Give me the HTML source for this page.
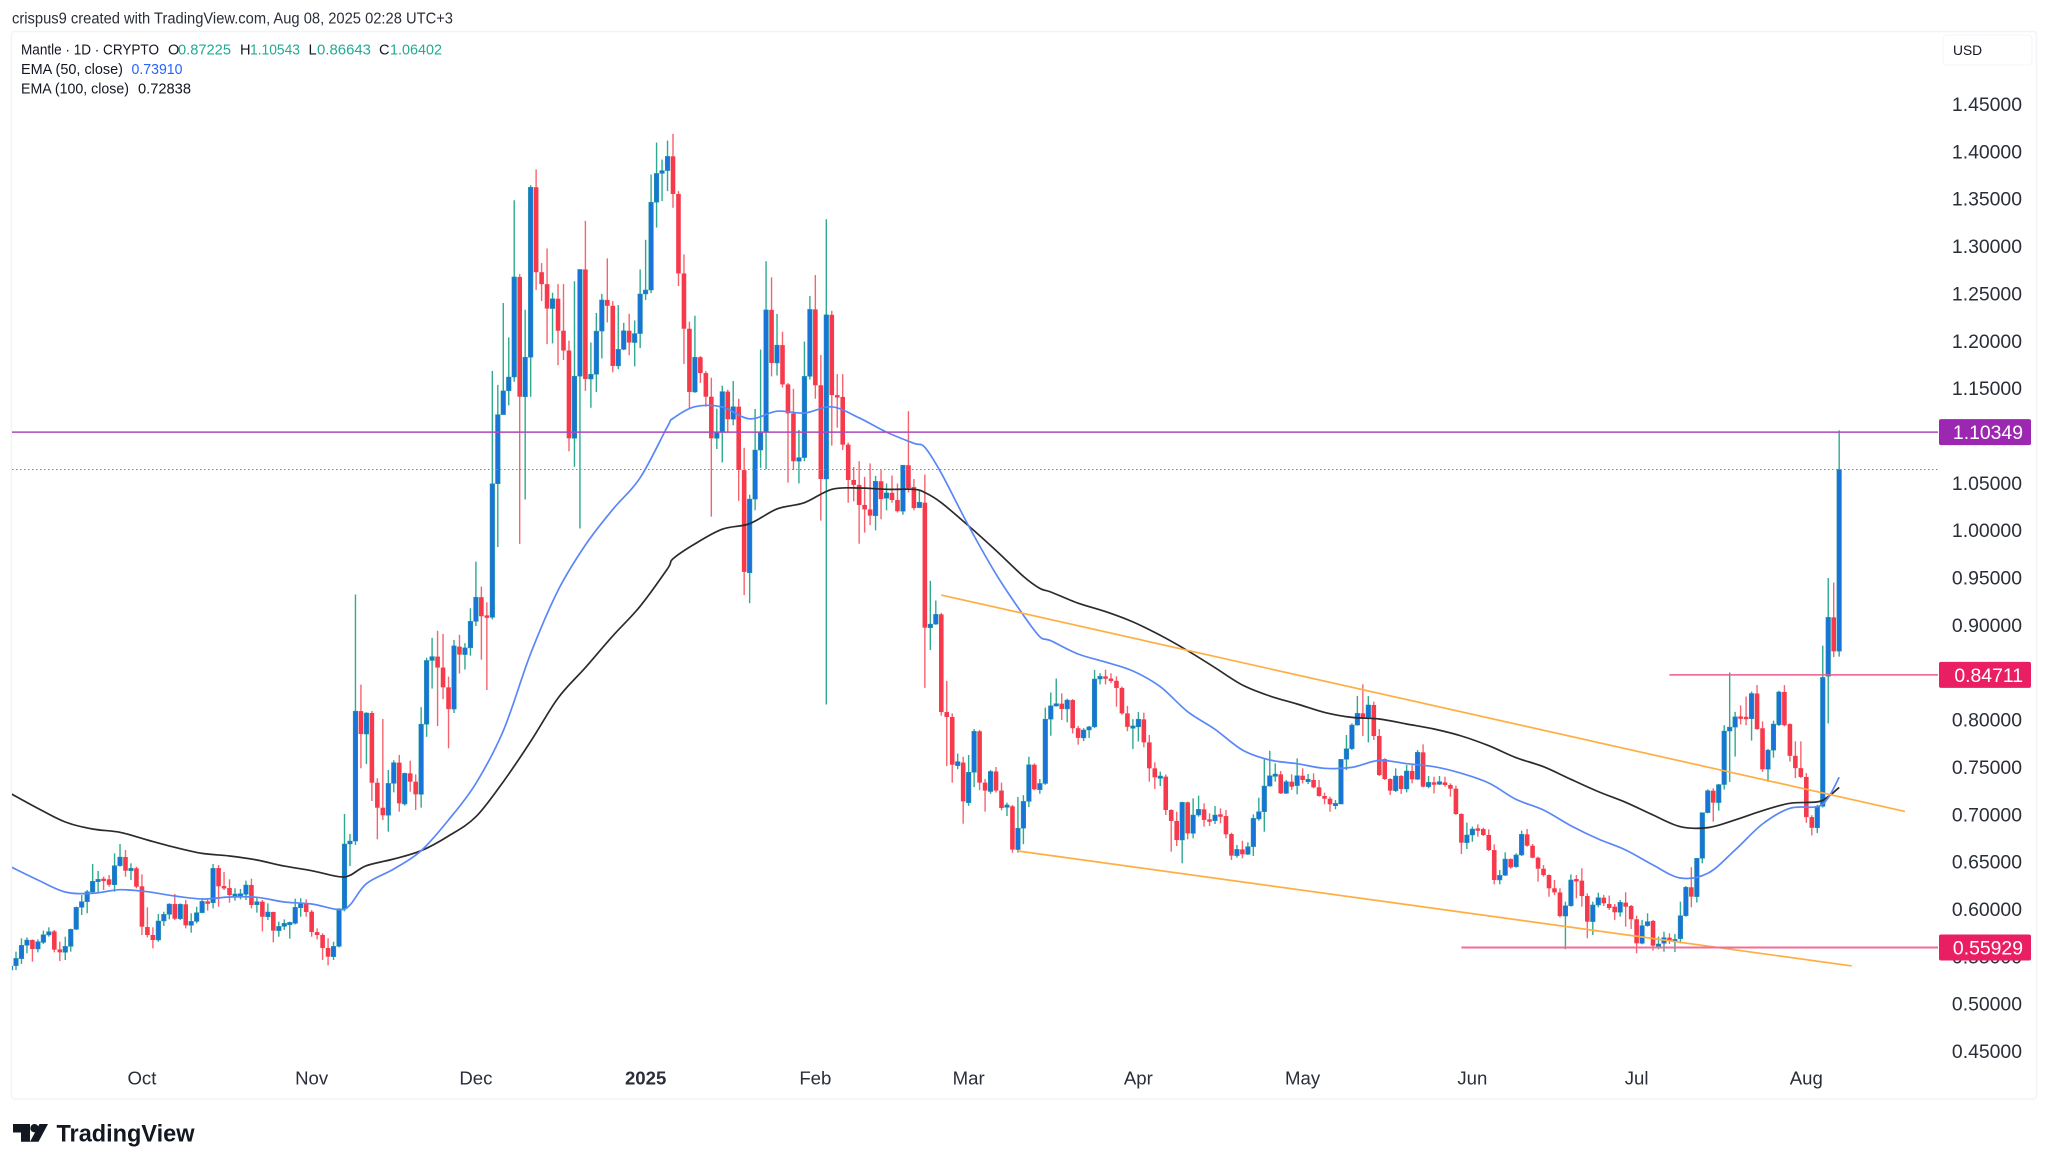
<!DOCTYPE html>
<html lang="en">
<head>
<meta charset="utf-8">
<title>Mantle 1D chart</title>
<style>
html,body{margin:0;padding:0;background:#fff;}
body{width:2048px;height:1168px;overflow:hidden;}
svg{display:block;font-family:"Liberation Sans",Arial,sans-serif;}
</style>
</head>
<body>
<svg id="chart" xmlns="http://www.w3.org/2000/svg" width="2048" height="1168" viewBox="0 0 2048 1168">
  <defs><clipPath id="plot-clip"><rect x="12" y="32" width="1926" height="1067"/></clipPath></defs>
  <rect x="0" y="0" width="2048" height="1168" fill="#ffffff"/>
  <rect x="11.5" y="31.5" width="2025" height="1067.5" rx="3" fill="#ffffff" stroke="#f1f3f8" stroke-width="1.5"/>
  <text x="12" y="23.5" font-size="15.5" fill="#2a2e39" textLength="441" lengthAdjust="spacingAndGlyphs">crispus9 created with TradingView.com, Aug 08, 2025 02:28 UTC+3</text>

  <g font-size="14.6" fill="#131722">
    <text x="21" y="54.5" textLength="138" lengthAdjust="spacingAndGlyphs">Mantle · 1D · CRYPTO</text>
    <text x="168" y="54.5">O</text>
    <text x="178" y="54.5" fill="#22ab94" textLength="53" lengthAdjust="spacingAndGlyphs">0.87225</text>
    <text x="240" y="54.5">H</text>
    <text x="250" y="54.5" fill="#22ab94" textLength="50" lengthAdjust="spacingAndGlyphs">1.10543</text>
    <text x="308.5" y="54.5">L</text>
    <text x="317" y="54.5" fill="#22ab94" textLength="54" lengthAdjust="spacingAndGlyphs">0.86643</text>
    <text x="379" y="54.5">C</text>
    <text x="390" y="54.5" fill="#22ab94" textLength="52" lengthAdjust="spacingAndGlyphs">1.06402</text>
    <text x="21" y="74" textLength="102" lengthAdjust="spacingAndGlyphs">EMA (50, close)</text>
    <text x="131.5" y="74" fill="#2962ff" textLength="51" lengthAdjust="spacingAndGlyphs">0.73910</text>
    <text x="21" y="93.5" textLength="108" lengthAdjust="spacingAndGlyphs">EMA (100, close)</text>
    <text x="138" y="93.5" textLength="53" lengthAdjust="spacingAndGlyphs">0.72838</text>
  </g>

  <g id="candles" clip-path="url(#plot-clip)"></g>
  <g id="emas" clip-path="url(#plot-clip)"></g>
  <g id="drawings"></g>
  <g id="yaxis"></g>
  <g id="xaxis"></g>
  <g id="tags"></g>

  <g>
    <rect x="1943" y="35" width="89" height="30" rx="4" fill="#ffffff" stroke="#f3f4f8" stroke-width="1"/>
    <text x="1953" y="55" font-size="13.8" fill="#131722">USD</text>
  </g>

  <g fill="#131722">
    <path d="M13 1124H30V1141.7H21V1132.5H13Z"/>
    <circle cx="34.5" cy="1128.2" r="4.2"/>
    <path d="M39.5 1124H48L38.5 1141.7H30Z"/>
    <text x="56.5" y="1141.5" font-size="24.5" font-weight="700" textLength="138" lengthAdjust="spacingAndGlyphs">TradingView</text>
  </g>
</svg>

<script>
// Daily OHLC values, one entry per candle (index 0 is the clipped first bar)
const opens = [
.5355,.5401,.5475,.5616,.5672,.5577,.5647,.5725,.5763,.5573,
.5542,.5605,.5785,.6017,.6077,.6179,.6292,.6320,.6313,.6256,
.6457,.6548,.6404,.6429,.6239,.5809,.5725,.5672,.5873,.5943,
.6052,.5897,.6049,.5827,.5869,.5961,.6080,.6066,.6432,.6242,
.6221,.6151,.6154,.6154,.6253,.6045,.6077,.5918,.5968,.5771,
.5816,.5851,.5848,.6013,.6059,.5971,.5756,.5725,.5588,.5496,
.5605,.6003,.6686,.6717,.8089,.7847,.8069,.7333,.7069,.6989,
.7326,.7545,.7108,.7432,.7344,.7210,.7951,.8624,.8665,.8549,
.8340,.8110,.8770,.8686,.8757,.9037,.9292,.9100,.9079,1.049,
1.122,1.1471,1.1617,1.2674,1.1409,1.1826,1.3621,1.2724,1.2598,1.234,
1.2444,1.2106,1.1897,1.097,1.1626,1.2753,1.1596,1.1646,1.2102,1.2431,
1.2369,1.1734,1.1909,1.2106,1.1981,1.2076,1.2494,1.2536,1.3463,1.3767,
1.3797,1.3947,1.355,1.2711,1.2127,1.1459,1.1826,1.1659,1.1409,1.097,
1.1033,1.1463,1.1171,1.1304,1.0634,.955,1.0328,1.0846,1.1035,1.2326,
1.1765,1.1954,1.1539,1.1233,1.0728,1.0766,1.1624,1.2331,1.153,1.054,
1.2274,1.1426,1.1407,1.0903,1.053,1.0478,1.0266,1.0219,1.0153,1.0516,
1.0337,1.0394,1.0318,1.02,1.0686,1.0455,1.0238,1.029,.897,.9008,
.9111,.8079,.8027,.7513,.7546,.7122,.7443,.7876,.7334,.724,
.7452,.725,.7094,.7084,.6627,.6853,.7136,.7523,.7259,.7325,
.8004,.8145,.8168,.8112,.8206,.7909,.7806,.789,.7923,.8428,
.8456,.8433,.8409,.8334,.8065,.7923,.7923,.8002,.7759,.7485,
.7397,.7397,.7045,.6929,.6728,.7126,.6798,.6992,.7052,.6946,
.6932,.6999,.6981,.6791,.6563,.6629,.6577,.6658,.695,.7027,
.7298,.7418,.7421,.7221,.7344,.7302,.7407,.7362,.7362,.7284,
.7193,.7164,.7108,.7108,.758,.7692,.7942,.8066,.8023,.8154,
.7826,.7583,.7372,.7249,.7404,.7267,.7457,.7369,.7654,.7291,
.7337,.7316,.7337,.7309,.727,.7003,.67,.6781,.6851,.6844,
.6781,.6622,.6306,.6355,.6527,.6446,.657,.6788,.6668,.6541,
.6425,.6358,.6218,.6175,.5925,.6034,.6316,.6299,.6137,.5866,
.6042,.6119,.6053,.6024,.5965,.6067,.6031,.5891,.5637,.5824,
.5873,.5609,.5637,.5697,.5665,.5686,.5929,.6229,.613,.6535,
.7017,.7249,.7123,.7314,.7879,.792,.8033,.8029,.8009,.8275,
.7908,.7475,.7677,.7944,.8291,.7952,.7617,.7487,.7394,.697,
.6857,.7084,.8457,.9079,.8722];
const highs = [
.5408,.5549,.5690,.5700,.5679,.5679,.5771,.5806,.5778,.5654,
.5707,.5792,.6024,.6147,.6200,.6475,.6401,.6341,.6358,.6587,
.6686,.6622,.6482,.6446,.6365,.6017,.5806,.5947,.5971,.6059,
.6158,.6059,.6094,.5954,.6024,.6101,.6112,.6475,.6464,.6390,
.6313,.6218,.6211,.6299,.6320,.6130,.6094,.6059,.5971,.5866,
.5890,.5866,.6108,.6112,.6101,.5989,.5795,.5742,.5690,.5654,
.6006,.7003,.6791,.9321,.8369,.8077,.809,.738,.8006,.7467,
.757,.7626,.7439,.7566,.7421,.8131,.8653,.8862,.8937,.8904,
.8453,.8841,.8895,.8807,.9175,.9667,.9404,.9238,1.168,1.1534,
1.2398,1.2035,1.3483,1.2703,1.2327,1.3642,1.3809,1.282,1.2974,1.2507,
1.2598,1.2598,1.2001,1.2628,1.2753,1.3266,1.1981,1.2294,1.2494,1.287,
1.2419,1.2377,1.2189,1.2285,1.2214,1.2753,1.3066,1.3755,1.4093,1.3913,
1.4114,1.4185,1.358,1.2911,1.2202,1.2264,1.1838,1.168,1.1609,1.1283,
1.1525,1.1484,1.1575,1.1388,1.087,1.0375,1.128,1.1907,1.284,1.267,
1.2284,1.2095,1.1553,1.1492,1.1058,1.1992,1.2472,1.2694,1.185,1.3283,
1.2317,1.1648,1.1648,1.0925,1.0667,1.0728,1.0563,1.0705,1.0573,1.0634,
1.0493,1.0577,1.0493,1.0686,1.1256,1.054,1.0422,1.0587,.9465,.9257,
.9125,.8409,.8065,.764,.7608,.7626,.79,.789,.7372,.7466,
.7499,.7334,.7122,.7098,.7183,.7202,.7608,.7537,.7372,.8126,
.8286,.8433,.8277,.822,.8216,.7933,.7909,.7933,.8522,.8489,
.8527,.8489,.8456,.8348,.8145,.8004,.8079,.8073,.7837,.7548,
.745,.7421,.7052,.7027,.7133,.7133,.7168,.7196,.7115,.701,
.7087,.7062,.7045,.6805,.6675,.672,.6703,.6999,.7175,.758,
.7671,.7538,.7457,.7362,.7421,.759,.7485,.7425,.7432,.7362,
.7228,.7186,.715,.758,.7837,.796,.8249,.8372,.8249,.8189,
.79,.759,.7379,.7485,.7414,.752,.752,.7678,.7738,.7404,
.7397,.7404,.7397,.7326,.7302,.701,.6911,.6869,.6893,.6858,
.684,.6682,.6411,.6598,.6534,.6587,.6827,.6844,.6686,.6552,
.6464,.6365,.6306,.6218,.6077,.6365,.6358,.6429,.6165,.6077,
.6172,.6148,.6141,.6053,.6095,.6176,.6042,.5929,.5884,.5954,
.5884,.5708,.576,.5743,.5736,.6077,.6243,.644,.6535,.7017,
.7263,.7274,.732,.794,.8497,.8081,.815,.8243,.8296,.8364,
.798,.769,.7988,.8304,.8364,.796,.777,.777,.7435,.699,
.71,.878,.9495,.9447,1.1054];
const lows = [
.5348,.5355,.5419,.5531,.5443,.5542,.5630,.5707,.5542,.5450,
.5461,.5549,.5778,.5936,.5954,.6165,.6172,.6200,.6235,.6182,
.6446,.6341,.6306,.6218,.5725,.5700,.5584,.5654,.5820,.5890,
.5883,.5883,.5795,.5749,.5848,.5954,.5982,.6006,.6024,.6200,
.6066,.6087,.6101,.6094,.6006,.5961,.5763,.5883,.5647,.5707,
.5778,.5686,.5837,.5918,.5918,.5707,.5679,.5461,.5404,.5461,
.5594,.5975,.6453,.6675,.7485,.753,.714,.6735,.6939,.6816,
.7231,.7027,.7091,.7238,.7045,.707,.7818,.8327,.7931,.8215,
.7696,.8069,.8486,.8528,.8674,.8987,.8632,.8311,.9058,.9822,
1.122,1.1317,1.1567,.9855,1.0323,1.1409,1.2536,1.2419,1.1964,1.1972,
1.1742,1.1797,1.0832,1.067,1.0018,1.1471,1.1292,1.1459,1.1813,1.2193,
1.1667,1.17,1.1901,1.1847,1.173,1.1922,1.2431,1.2502,1.3195,1.3475,
1.358,1.3404,1.2577,1.1755,1.1283,1.145,1.1555,1.1304,1.0143,1.0857,
1.0715,1.1033,1.1108,1.031,.9314,.9229,1.021,1.0658,1.0643,1.1624,
1.1633,1.1506,1.0502,1.0634,1.0493,1.0728,1.1591,1.1388,1.0101,.8159,
1.0893,1.1082,1.0846,1.029,1.0304,.9856,.9974,1.0054,.9998,1.0115,
1.021,1.029,1.0186,1.0163,1.0398,1.021,1.0233,.8334,.8734,.9,
.8041,.7509,.7334,.7476,.69,.7089,.7287,.7254,.7028,.7216,
.723,.7042,.6981,.6594,.6594,.6684,.7075,.7254,.7216,.7311,
.7829,.8136,.7994,.7971,.7853,.7735,.7773,.7806,.7909,.8371,
.8371,.8385,.8136,.8051,.7876,.7688,.7768,.7707,.7344,.7267,
.7298,.6992,.6605,.6665,.6482,.6735,.6746,.6974,.6869,.6876,
.6897,.6904,.6746,.6517,.6541,.6534,.657,.6559,.6932,.6816,
.7291,.7344,.7214,.7214,.7256,.721,.7326,.7319,.7274,.7186,
.7105,.7027,.7052,.7108,.7467,.7678,.7935,.7826,.7759,.7784,
.7404,.7362,.7203,.7235,.7214,.7231,.7326,.7362,.7284,.7274,
.7221,.7309,.7291,.7186,.6992,.658,.6633,.671,.6763,.677,
.6612,.626,.626,.6348,.6425,.6436,.6559,.6658,.6534,.6288,
.6341,.6129,.6147,.5911,.5574,.6024,.6112,.6024,.569,.5725,
.6017,.6031,.5989,.5884,.5919,.5813,.5789,.5532,.5627,.5813,
.556,.5574,.5549,.563,.5546,.5637,.5919,.6017,.6067,.6482,
.701,.6922,.7038,.7261,.7342,.7609,.7948,.794,.7778,.7892,
.7447,.7342,.7597,.7932,.7928,.7556,.7382,.7382,.691,.6776,
.6801,.7071,.796,.8659,.8664];
const closes = [
.5397,.5478,.5616,.5672,.5577,.5654,.5728,.5760,.5570,.5542,
.5605,.5785,.6017,.6077,.6182,.6292,.6313,.6313,.6256,.6457,
.6548,.6404,.6429,.6235,.5813,.5725,.5672,.5873,.5943,.6052,
.5897,.6049,.5827,.5869,.5961,.6080,.6066,.6429,.6239,.6221,
.6147,.6158,.6161,.6253,.6042,.6077,.5918,.5968,.5771,.5816,
.5848,.5858,.6017,.6056,.5968,.5756,.5725,.5588,.5496,.5605,
.6003,.6686,.6717,.8089,.7847,.8069,.7333,.7069,.6989,.7326,
.7545,.7115,.7432,.7344,.721,.7951,.8624,.8665,.8549,.834,
.811,.8778,.8686,.8757,.9037,.9292,.9091,.9083,1.049,1.122,
1.1471,1.1617,1.2674,1.1409,1.1826,1.3621,1.2724,1.2598,1.234,1.2444,
1.2106,1.1897,1.097,1.1626,1.2753,1.1596,1.1646,1.2102,1.2431,1.2369,
1.1734,1.1909,1.2106,1.1981,1.2076,1.2494,1.2536,1.3463,1.3767,1.3797,
1.3947,1.355,1.2711,1.2127,1.1459,1.1826,1.1659,1.1409,1.097,1.1033,
1.1463,1.1171,1.1304,1.0636,.9559,1.0328,1.0846,1.1035,1.2326,1.1765,
1.1954,1.1539,1.1233,1.0728,1.0766,1.1624,1.2331,1.153,1.054,1.2274,
1.1426,1.1407,1.0903,1.053,1.0478,1.0266,1.0219,1.0153,1.0516,1.0328,
1.0394,1.0318,1.02,1.0686,1.0445,1.0233,1.0295,.897,.9008,.9111,
.8079,.8027,.7523,.7556,.7136,.7443,.7876,.7334,.725,.7452,
.725,.7066,.7098,.6627,.6853,.7136,.7523,.7263,.7325,.8004,
.8145,.8168,.8112,.8206,.7909,.7806,.789,.7923,.8428,.8456,
.8433,.8409,.8334,.8065,.7923,.7933,.8004,.7759,.7485,.739,
.7404,.7045,.6929,.6728,.7126,.6798,.6992,.7052,.694,.6932,
.6992,.6992,.6788,.6563,.6629,.6577,.6658,.6957,.7027,.7298,
.7407,.7425,.7221,.7344,.7291,.7407,.7362,.7369,.7284,.7193,
.7164,.7105,.7115,.758,.7692,.7942,.8066,.8023,.8154,.7826,
.7414,.7372,.7249,.7404,.7267,.7457,.7369,.7654,.7291,.7337,
.7326,.7344,.7309,.727,.7003,.67,.6781,.6844,.6844,.6781,
.6622,.6306,.6355,.6527,.6439,.657,.6788,.6668,.6541,.6425,
.6358,.6218,.6175,.5925,.6034,.6306,.6306,.6137,.5866,.6042,
.6119,.606,.601,.5965,.607,.6024,.5891,.5637,.5824,.5866,
.5613,.563,.5697,.5665,.5679,.5929,.6229,.613,.6535,.7017,
.7249,.7123,.7313,.7879,.792,.8029,.8025,.8021,.8275,.7899,
.7475,.7677,.7952,.8291,.794,.7617,.7487,.7394,.697,.6857,
.7084,.8445,.9079,.872,1.064];

// EMA readings, taken at the candle indices listed in emaDays
const emaDays = [0,5,10,15,20,25,30,35,40,45,50,55,60,62,65,70,75,80,85,90,95,100,105,110,115,120,121,125,130,135,140,145,150,155,160,165,167,170,175,180,185,188,190,195,200,205,210,215,220,225,230,235,240,245,250,255,260,265,270,275,280,285,290,295,300,305,310,315,320,325,330,332,334];
const ema50 = [.6446,.6306,.6179,.6165,.6203,.6182,.6137,.6105,.6126,.6123,.6073,.6052,.5992,.6042,.6267,.6422,.6615,.6939,.7326,.7881,.8695,.9363,.9843,1.0219,1.0553,1.1095,1.1179,1.1304,1.1300,1.1176,1.1256,1.1237,1.1303,1.1186,1.1035,1.0917,1.0875,1.0601,1.0045,.9536,.9102,.8875,.8833,.8692,.8607,.8513,.8347,.8083,.7897,.7678,.7573,.7534,.7485,.7495,.7569,.7534,.7502,.7432,.733,.7157,.7045,.6879,.6739,.6623,.6464,.6327,.6376,.6623,.6897,.7063,.708,.7175,.7391];
const ema100 = [.722,.7062,.6918,.6844,.6809,.6728,.6651,.6587,.6559,.6517,.6453,.6404,.6341,.6355,.6457,.6527,.6615,.677,.6974,.7344,.7768,.8227,.8549,.8883,.9196,.9592,.9697,.9855,1.001,1.0068,1.0224,1.029,1.0431,1.0445,1.0431,1.0431,1.0398,1.029,1.0045,.9785,.9512,.9385,.9347,.9229,.914,.9031,.889,.8727,.8548,.8365,.8249,.8164,.8076,.8023,.8006,.7953,.79,.7826,.7724,.7597,.7502,.7369,.7239,.7126,.6992,.6869,.6859,.694,.7038,.7116,.713,.7186,.7284];

// Axis labels and the candle each time label sits on
const priceTicks = ["1.45000","1.40000","1.35000","1.30000","1.25000","1.20000","1.15000","1.10000","1.05000","1.00000","0.95000","0.90000","0.85000","0.80000","0.75000","0.70000","0.65000","0.60000","0.55000","0.50000","0.45000"];
const timeLabels = ["Oct","Nov","Dec","2025","Feb","Mar","Apr","May","Jun","Jul","Aug"];
const timeLabelDays = [24,55,85,116,147,175,206,236,267,297,328];

// Drawn levels and trendlines (candle index, price)
const tagLabels = ["1.10349","0.84711","0.55929"];
const tagPrices = [1.10349,0.84711,0.55929];
const tagStartDays = [0,303,265];
const lastClose = 1.06402;
const upperTrendDays = [170,346];
const upperTrendPrices = [.9315,.703];
const lowerTrendDays = [184,336.3];
const lowerTrendPrices = [.6612,.5398];

const NS = "http://www.w3.org/2000/svg";
const xOf = i => 16 + 5.475 * (i - 1);
const yOf = p => 104 + (1.45 - p) * 947;
function mk(tag, parent) {
  const el = document.createElementNS(NS, tag);
  parent.appendChild(el);
  return el;
}

const candleLayer = document.getElementById("candles");
opens.forEach((o, i) => {
  const c = closes[i];
  const up = c >= o;
  const x = xOf(i);
  const wick = mk("line", candleLayer);
  
  
  wick.setAttribute("x1", x);
  wick.setAttribute("x2", x);
  wick.setAttribute("y1", yOf(highs[i]));
  wick.setAttribute("y2", yOf(lows[i]));
  wick.setAttribute("stroke", up ? "#2fa98f" : "#f7626e");
  wick.setAttribute("stroke-width", "1.4");
  const top = yOf(Math.max(o, c));
  const h = Math.max(2.4, Math.abs(yOf(o) - yOf(c)));
  const body = mk("rect", candleLayer);
  
  
  body.setAttribute("x", x - 2.3);
  body.setAttribute("y", top);
  body.setAttribute("width", 4.6);
  body.setAttribute("height", h);
  body.setAttribute("fill", up ? "#1a73d8" : "#f63a4c");
  if (up) {
    body.setAttribute("stroke", "#1f9a9a");
    body.setAttribute("stroke-width", "0.5");
  }
});

const emaLayer = document.getElementById("emas");
function linePath(values) {
  const pts = values.map((v, k) => [xOf(emaDays[k]), yOf(v)]);
  let d = "M" + pts[0][0].toFixed(1) + " " + pts[0][1].toFixed(1);
  for (let k = 0; k < pts.length - 1; k++) {
    const p0 = pts[Math.max(0, k - 1)];
    const p1 = pts[k];
    const p2 = pts[k + 1];
    const p3 = pts[Math.min(pts.length - 1, k + 2)];
    const c1x = p1[0] + (p2[0] - p0[0]) / 6;
    const c1y = p1[1] + (p2[1] - p0[1]) / 6;
    const c2x = p2[0] - (p3[0] - p1[0]) / 6;
    const c2y = p2[1] - (p3[1] - p1[1]) / 6;
    d += "C" + c1x.toFixed(1) + " " + c1y.toFixed(1) + " " + c2x.toFixed(1) + " " + c2y.toFixed(1) + " " + p2[0].toFixed(1) + " " + p2[1].toFixed(1);
  }
  return d;
}
const ema100Line = mk("path", emaLayer);


ema100Line.setAttribute("d", linePath(ema100));
ema100Line.setAttribute("fill", "none");
ema100Line.setAttribute("stroke", "#2b2b2b");
ema100Line.setAttribute("stroke-width", "1.7");
ema100Line.setAttribute("stroke-linejoin", "round");
const ema50Line = mk("path", emaLayer);


ema50Line.setAttribute("d", linePath(ema50));
ema50Line.setAttribute("fill", "none");
ema50Line.setAttribute("stroke", "#5a87f7");
ema50Line.setAttribute("stroke-width", "1.7");
ema50Line.setAttribute("stroke-linejoin", "round");

const drawLayer = document.getElementById("drawings");
const upperTrend = mk("line", drawLayer);


upperTrend.setAttribute("x1", xOf(upperTrendDays[0]));
upperTrend.setAttribute("y1", yOf(upperTrendPrices[0]));
upperTrend.setAttribute("x2", xOf(upperTrendDays[1]));
upperTrend.setAttribute("y2", yOf(upperTrendPrices[1]));
upperTrend.setAttribute("stroke", "#ffae42");
upperTrend.setAttribute("stroke-width", "1.7");
const lowerTrend = mk("line", drawLayer);


lowerTrend.setAttribute("x1", xOf(lowerTrendDays[0]));
lowerTrend.setAttribute("y1", yOf(lowerTrendPrices[0]));
lowerTrend.setAttribute("x2", xOf(lowerTrendDays[1]));
lowerTrend.setAttribute("y2", yOf(lowerTrendPrices[1]));
lowerTrend.setAttribute("stroke", "#ffae42");
lowerTrend.setAttribute("stroke-width", "1.7");

const lastLine = mk("line", drawLayer);


lastLine.setAttribute("x1", 12);
lastLine.setAttribute("x2", 1938);
lastLine.setAttribute("y1", yOf(lastClose));
lastLine.setAttribute("y2", yOf(lastClose));
lastLine.setAttribute("stroke", "#4f8fe0");
lastLine.setAttribute("stroke-width", "1");
lastLine.setAttribute("stroke-dasharray", "1.5 2.5");

const tagColors = ["#9c27b0", "#e91e63", "#e91e63"];
const tagLineColors = ["#ab47bc", "#ec5a8e", "#f06c99"];
const tagLineWidths = [1.5, 1.5, 1.9];

const yAxis = document.getElementById("yaxis");
priceTicks.forEach(t => {
  const label = mk("text", yAxis);
  
  
  label.setAttribute("x", 2022);
  label.setAttribute("y", yOf(parseFloat(t)) + 7);
  label.setAttribute("text-anchor", "end");
  label.setAttribute("font-size", "19.4");
  label.setAttribute("fill", "#2a2e39");
  label.textContent = t;
});

const xAxis = document.getElementById("xaxis");
timeLabels.forEach((t, k) => {
  const label = mk("text", xAxis);
  
  
  label.setAttribute("x", xOf(timeLabelDays[k]));
  label.setAttribute("y", 1084.5);
  label.setAttribute("text-anchor", "middle");
  label.setAttribute("font-size", "18.6");
  label.setAttribute("fill", "#2a2e39");
  if (t === "2025") {
    label.setAttribute("font-weight", "700");
  }
  label.textContent = t;
});

const tagLayer = document.getElementById("tags");
tagLabels.forEach((t, k) => {
  const y = yOf(tagPrices[k]);
  const level = mk("line", tagLayer);
  
  
  level.setAttribute("x1", Math.max(12, xOf(tagStartDays[k])));
  level.setAttribute("x2", 1938);
  level.setAttribute("y1", y);
  level.setAttribute("y2", y);
  level.setAttribute("stroke", tagLineColors[k]);
  level.setAttribute("stroke-width", tagLineWidths[k]);
  const box = mk("rect", tagLayer);
  
  
  box.setAttribute("x", 1939);
  box.setAttribute("y", y - 13);
  box.setAttribute("width", 92);
  box.setAttribute("height", 26);
  box.setAttribute("rx", 2);
  box.setAttribute("fill", tagColors[k]);
  const text = mk("text", tagLayer);
  
  
  text.setAttribute("x", 2023);
  text.setAttribute("y", y + 7);
  text.setAttribute("text-anchor", "end");
  text.setAttribute("font-size", "19.4");
  text.setAttribute("fill", "#ffffff");
  text.textContent = t;
});
</script>
</body>
</html>
